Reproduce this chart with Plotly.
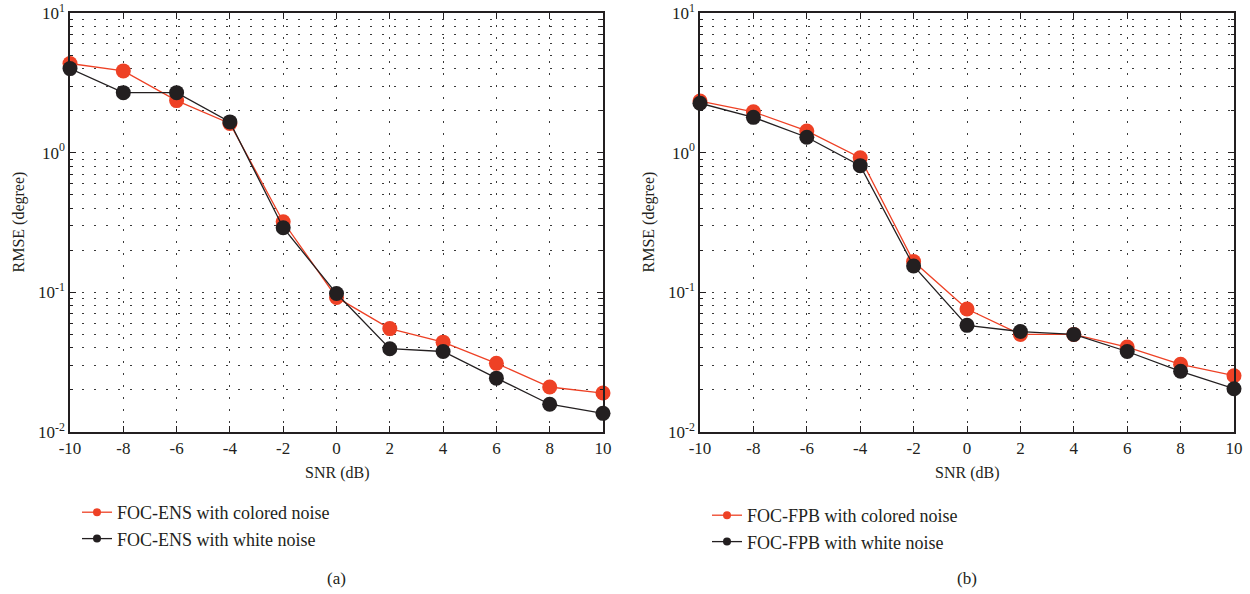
import plotly.graph_objects as go

# ---------------- data ----------------
snr = [-10, -8, -6, -4, -2, 0, 2, 4, 6, 8, 10]
ens_colored = [4.35, 3.85, 2.36, 1.62, 0.32, 0.092, 0.055, 0.044, 0.031, 0.021, 0.019]
ens_white = [4.0, 2.69, 2.69, 1.66, 0.29, 0.098, 0.0395, 0.0377, 0.0243, 0.0158, 0.0136]
fpb_colored = [2.34, 1.96, 1.43, 0.92, 0.166, 0.076, 0.050, 0.050, 0.0406, 0.0305, 0.0253]
fpb_white = [2.26, 1.79, 1.29, 0.807, 0.1545, 0.058, 0.0524, 0.050, 0.0377, 0.0272, 0.0204]

x_tickvals = [-10, -8, -6, -4, -2, 0, 2, 4, 6, 8, 10]
x_ticktext = ["-10", "-8", "-6", "-4", "-2", "0", "2", "4", "6", "8", "10"]
y_tickvals = [0.01, 0.1, 1, 10]
y_ticktext = ["10<sup>-2</sup>", "10<sup>-1</sup>", "10<sup>0</sup>", "10<sup>1</sup>"]

names_a = ["FOC-ENS with colored noise", "FOC-ENS with white noise"]
names_b = ["FOC-FPB with colored noise", "FOC-FPB with white noise"]
panel_labels = ["(a)", "(b)"]
x_title = "SNR (dB)"
y_title = "RMSE (degree)"

# ---------------- style ----------------
W, H = 1250, 594
RED = "#EE4125"
BLACK = "#231F20"
FONT = "Liberation Serif"
MS = 15
LW = 1.3

minor_vals = [d * m for d in (0.01, 0.1, 1) for m in range(2, 10)]


def px_x(p):  # page pixel -> paper fraction
    return p / W


def px_y(p):
    return 1 - p / H


fig = go.Figure()

panels = [
    ("x", "y", ens_colored, ens_white, names_a, "legend"),
    ("x2", "y2", fpb_colored, fpb_white, names_b, "legend2"),
]
for xa, ya, col, wht, names, leg in panels:
    for vals, color in ((col, RED), (wht, BLACK)):
        fig.add_trace(go.Scatter(
            x=snr, y=vals, xaxis=xa, yaxis=ya, mode="lines+markers",
            line=dict(color=color, width=LW),
            marker=dict(color=color, size=MS, symbol="circle"),
            cliponaxis=False, showlegend=False, hoverinfo="skip"))
    for name, color in zip(names, (RED, BLACK)):
        fig.add_trace(go.Scatter(
            x=[None], y=[None], xaxis=xa, yaxis=ya, mode="lines+markers",
            name=name, legend=leg,
            line=dict(color=color, width=LW),
            marker=dict(color=color, size=8)))

dom_x = [(70, 603), (700, 1234)]
top_px, bot_px = 13, 432
ydom = [px_y(bot_px), px_y(top_px)]

grid_dash = "1.5px,10.5px"
axis_common = dict(
    showline=True, linecolor=BLACK, linewidth=1.5, mirror="allticks",
    ticks="inside", tickcolor=BLACK, tickwidth=1.3,
    tickfont=dict(family=FONT, size=17, color=BLACK),
    showgrid=True, gridcolor="#3a3a3a", gridwidth=1, griddash=grid_dash,
    zeroline=False, automargin=False, ticklabeloverflow="allow",
)

layout = dict(
    width=W, height=H, margin=dict(l=0, r=0, t=0, b=0, autoexpand=False),
    paper_bgcolor="white", plot_bgcolor="white",
    font=dict(family=FONT, color=BLACK),
    showlegend=True,
)
for i, (x0, x1) in enumerate(dom_x):
    sfx = "" if i == 0 else str(i + 1)
    layout["xaxis" + sfx] = dict(
        axis_common, domain=[px_x(x0), px_x(x1)], range=[-10, 10],
        tickvals=x_tickvals, ticktext=x_ticktext, ticklen=6,
        anchor="y" + sfx)
    layout["yaxis" + sfx] = dict(
        axis_common, domain=ydom, type="log", range=[-2, 1],
        tickvals=y_tickvals, ticktext=y_ticktext, ticklen=6,
        anchor="x" + sfx,
        minor=dict(tickvals=minor_vals, ticks="inside", ticklen=3,
                   tickcolor=BLACK, tickwidth=1.2, showgrid=True,
                   gridcolor="#3a3a3a", gridwidth=1, griddash=grid_dash))

leg_common = dict(
    font=dict(family=FONT, size=18, color=BLACK),
    bgcolor="rgba(0,0,0,0)", borderwidth=0, xanchor="left", yanchor="top",
    tracegroupgap=0, itemwidth=30)
layout["legend"] = dict(leg_common, x=px_x(77), y=px_y(494))
layout["legend2"] = dict(leg_common, x=px_x(707), y=px_y(497))

fig.update_layout(**layout)

ann = []
centers = [(x0 + x1) / 2 for x0, x1 in dom_x]
for i, c in enumerate(centers):
    ann.append(dict(text=x_title, x=px_x(c), y=px_y(473), xref="paper", yref="paper",
                    xanchor="center", yanchor="middle", showarrow=False,
                    font=dict(family=FONT, size=16, color=BLACK)))
    ann.append(dict(text=panel_labels[i], x=px_x(c), y=px_y(578), xref="paper", yref="paper",
                    xanchor="center", yanchor="middle", showarrow=False,
                    font=dict(family=FONT, size=17, color=BLACK)))
for xp in (18, 648):
    ann.append(dict(text=y_title, x=px_x(xp), y=px_y((top_px + bot_px) / 2),
                    xref="paper", yref="paper", xanchor="center", yanchor="middle",
                    textangle=-90, showarrow=False,
                    font=dict(family=FONT, size=16, color=BLACK)))
fig.update_layout(annotations=ann)

fig.write_html("out.html", config={"displayModeBar": False},
               post_script="document.body.style.margin='0px';")
